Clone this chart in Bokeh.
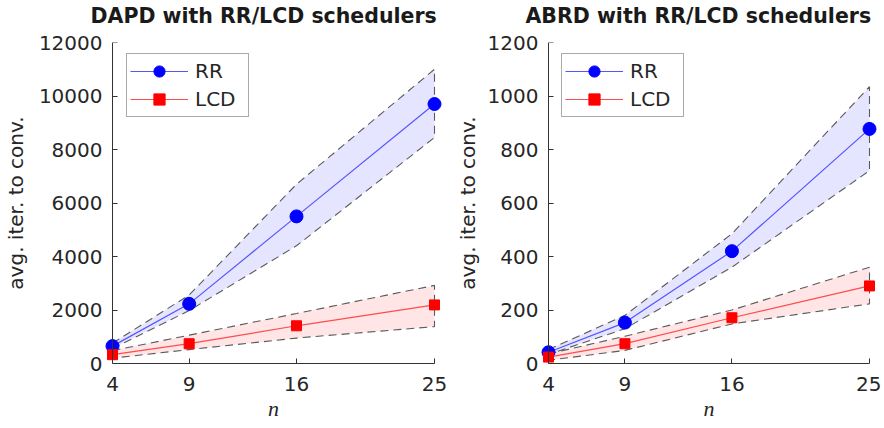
from bokeh.plotting import figure
from bokeh.layouts import row
from bokeh.models import Range1d, FixedTicker, Legend, LegendItem, LinearAxis, Title
from bokeh.embed import file_html
from bokeh.resources import INLINE

# ---- data ----
n = [4, 9, 16, 25]
x_ticks = [4, 9, 16, 25]

dapd_rr = [650, 2230, 5500, 9700]
dapd_rr_hi = [760, 2560, 6700, 11000]
dapd_rr_lo = [560, 1980, 4400, 8450]
dapd_lcd = [330, 740, 1410, 2190]
dapd_lcd_hi = [480, 1060, 1870, 2920]
dapd_lcd_lo = [200, 520, 950, 1380]
dapd_yticks = [0, 2000, 4000, 6000, 8000, 10000, 12000]

abrd_rr = [42, 153, 420, 877]
abrd_rr_hi = [52, 180, 485, 1035]
abrd_rr_lo = [34, 130, 360, 721]
abrd_lcd = [24, 74, 171, 290]
abrd_lcd_hi = [36, 102, 200, 360]
abrd_lcd_lo = [12, 49, 148, 223]
abrd_yticks = [0, 200, 400, 600, 800, 1000, 1200]

titles = ["DAPD with RR/LCD schedulers", "ABRD with RR/LCD schedulers"]
y_label = "avg. iter. to conv."
x_label = "n"
series_names = ["RR", "LCD"]

FONT = "DejaVu Sans"
TXT = "#262626"
AXC = "#333333"
TICK_FS = "20px"


def make_panel(title, rr, rr_hi, rr_lo, lcd, lcd_hi, lcd_lo, yticks,
               frame_w, pad_px, min_left, min_right, legend_x, title_offset,
               ylab_standoff):
    span = x_ticks[-1] - x_ticks[0]
    padu = pad_px * span / (frame_w - 2 * pad_px)
    p = figure(frame_width=frame_w, frame_height=321,
               x_range=Range1d(x_ticks[0] - padu, x_ticks[-1] + padu),
               y_range=Range1d(yticks[0], yticks[-1]),
               output_backend="svg", toolbar_location=None,
               min_border_left=min_left, min_border_right=min_right,
               min_border_top=42, min_border_bottom=63,
               outline_line_color=None,
               background_fill_color="white", border_fill_color="white")
    p.xgrid.visible = False
    p.ygrid.visible = False

    # bands
    p.patch(n + n[::-1], rr_hi + rr_lo[::-1], fill_color="#0000ff", fill_alpha=0.1,
            line_color="#5a5a5a", line_dash="8 5", line_width=1.1)
    p.patch(n + n[::-1], lcd_hi + lcd_lo[::-1], fill_color="#ff0000", fill_alpha=0.1,
            line_color="#5a5a5a", line_dash="8 5", line_width=1.1)

    rr_line = p.line(n, rr, line_color="#5555ff", line_width=1.2)
    rr_pts = p.scatter(n, rr, marker="circle", size=13, fill_color="#0000ff",
                       line_color="#0000ff")
    lcd_line = p.line(n, lcd, line_color="#ff4c4c", line_width=1.2)
    lcd_pts = p.scatter(n, lcd, marker="square", size=10, fill_color="#ff0000",
                        line_color="#ff0000")

    # x axis
    xa = p.xaxis[0]
    xa.ticker = FixedTicker(ticks=x_ticks)
    xa.bounds = (x_ticks[0], x_ticks[-1])
    xa.axis_line_color = AXC
    xa.major_tick_line_color = AXC
    xa.major_tick_in = 5
    xa.major_tick_out = 0
    xa.minor_tick_line_color = None
    xa.major_label_text_font = FONT
    xa.major_label_text_font_size = TICK_FS
    xa.major_label_text_color = TXT
    xa.major_label_standoff = 13
    xa.axis_label = x_label
    xa.axis_label_text_font = "Liberation Serif"
    xa.axis_label_text_font_style = "italic"
    xa.axis_label_text_font_size = "22px"
    xa.axis_label_text_color = TXT
    xa.axis_label_standoff = 2

    # y axis: labels only (at the frame edge)
    ya = p.yaxis[0]
    ya.ticker = FixedTicker(ticks=yticks)
    ya.axis_line_color = None
    ya.major_tick_line_color = None
    ya.minor_tick_line_color = None
    ya.major_tick_in = 0
    ya.major_tick_out = 0
    ya.major_label_standoff = 2
    ya.major_label_text_font = FONT
    ya.major_label_text_font_size = TICK_FS
    ya.major_label_text_color = TXT
    ya.axis_label = y_label
    ya.axis_label_text_font = FONT
    ya.axis_label_text_font_style = "normal"
    ya.axis_label_text_font_size = "20px"
    ya.axis_label_text_color = TXT
    ya.axis_label_standoff = ylab_standoff

    # y axis line + ticks placed at n = 4 (no labels)
    yl = LinearAxis(ticker=FixedTicker(ticks=yticks), fixed_location=x_ticks[0],
                    bounds=(yticks[0], yticks[-1]),
                    axis_line_color=AXC, major_tick_line_color=AXC,
                    major_tick_in=5, major_tick_out=0, minor_tick_line_color=None,
                    major_label_text_font_size="1px", major_label_text_color=None,
                    major_label_standoff=0)
    p.add_layout(yl, "left")

    # invisible spacer between frame and title
    p.title.text = ""
    spacer = LinearAxis(ticker=FixedTicker(ticks=x_ticks), axis_line_color=None,
                        major_tick_line_color=None, minor_tick_line_color=None,
                        major_tick_in=0, major_tick_out=10,
                        major_label_text_font_size="1px", major_label_text_color=None,
                        major_label_standoff=0)
    p.add_layout(spacer, "above")

    t = Title(text=title, text_font=FONT, text_font_size="20.5px",
              text_font_style="bold", text_color="#1a1a1a", align="left",
              offset=title_offset, vertical_align="top")
    if "standoff" in t.properties():
        t.standoff = 6
    p.add_layout(t, "above")

    legend = Legend(items=[LegendItem(label=series_names[0], renderers=[rr_line, rr_pts]),
                           LegendItem(label=series_names[1], renderers=[lcd_line, lcd_pts])],
                    location=(legend_x, 246), orientation="vertical",
                    border_line_color="#555555", border_line_width=1,
                    background_fill_color="white", background_fill_alpha=1,
                    label_text_font=FONT, label_text_font_size="20px",
                    label_text_color=TXT, glyph_width=58, glyph_height=28,
                    label_standoff=7, label_width=50, padding=3, spacing=0, margin=0)
    p.add_layout(legend)
    return p


p1 = make_panel(titles[0], dapd_rr, dapd_rr_hi, dapd_rr_lo, dapd_lcd, dapd_lcd_hi,
                dapd_lcd_lo, dapd_yticks, frame_w=338, pad_px=8, min_left=103,
                min_right=8, legend_x=22, title_offset=-14, ylab_standoff=8)
p2 = make_panel(titles[1], abrd_rr, abrd_rr_hi, abrd_rr_lo, abrd_lcd, abrd_lcd_hi,
                abrd_lcd_lo, abrd_yticks, frame_w=337, pad_px=8, min_left=90,
                min_right=4, legend_x=21, title_offset=-15, ylab_standoff=5)

layout = row(p1, p2)
open("out.html", "w").write(file_html(layout, INLINE))
